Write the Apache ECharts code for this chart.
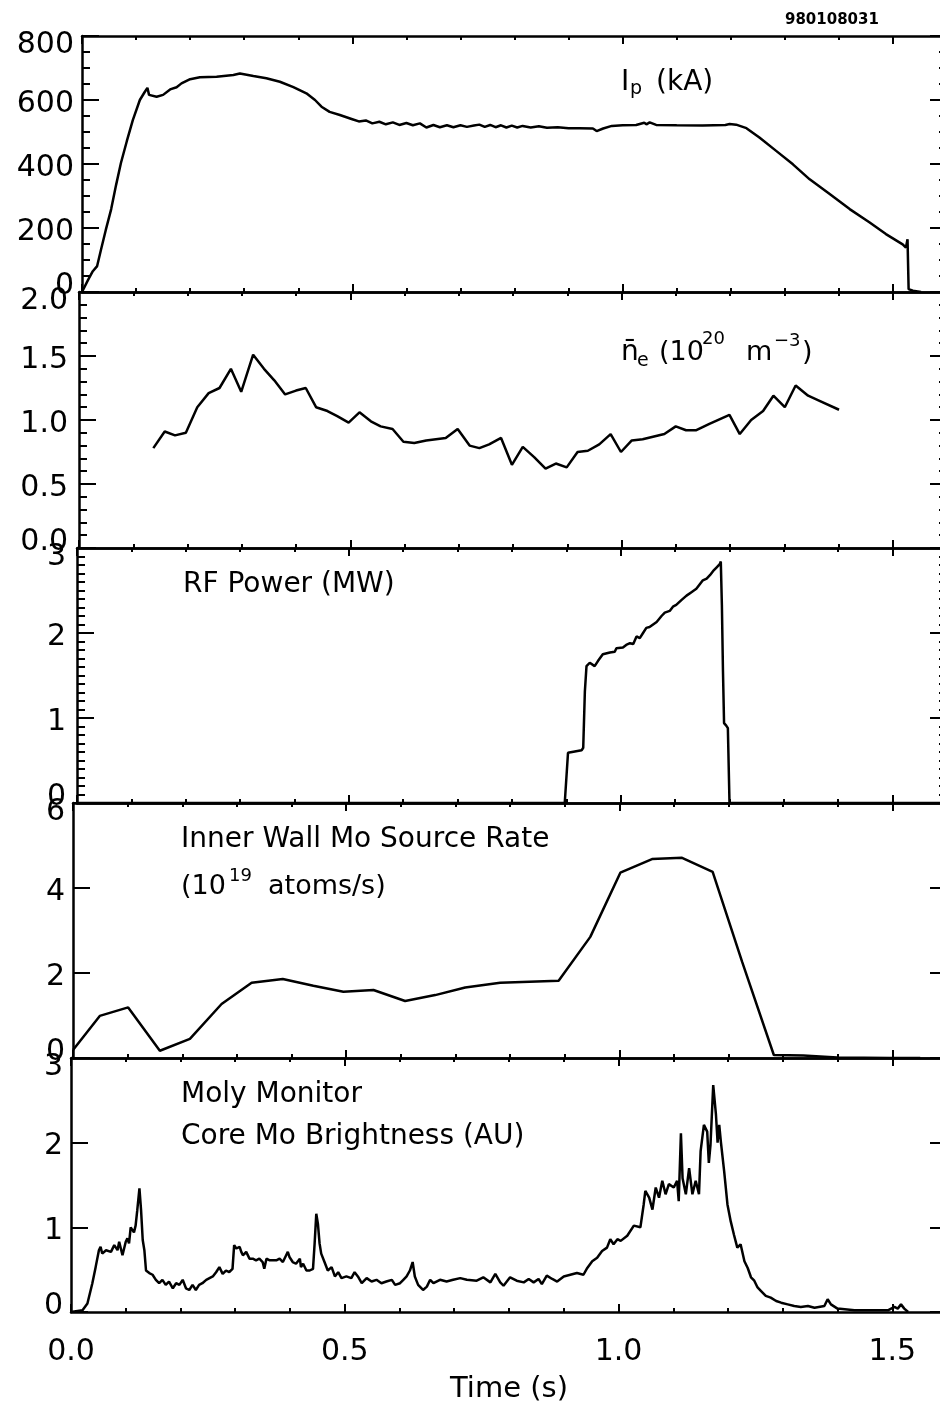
<!DOCTYPE html>
<html>
<head>
<meta charset="utf-8">
<script src="https://cdn.jsdelivr.net/npm/echarts@6.0.0/dist/echarts.min.js"></script>
<style>
html,body{margin:0;padding:0;background:#fff;}
#chart{width:940px;height:1408px;}
</style>
</head>
<body>
<div id="chart"></div>
<script>
// ---------------- DATA ----------------
const shotNumber = '980108031';
const timeLabel = 'Time (s)';

const ipTime = [0,.011,.020,.028,.035,.044,.054,.063,.072,.083,.094,.107,.116,.121,.124,.138,.150,.163,.175,.184,.200,.218,.249,.280,.292,.317,.341,.366,.391,.415,.431,.443,.458,.477,.500,.512,.525,.537,.550,.562,.575,.587,.600,.612,.625,.637,.650,.662,.675,.687,.700,.712,.725,.735,.745,.755,.765,.775,.785,.795,.805,.815,.830,.845,.860,.880,.900,.920,.945,.952,.964,.980,1.000,1.025,1.040,1.044,1.050,1.062,1.100,1.148,1.190,1.198,1.210,1.229,1.253,1.284,1.315,1.346,1.383,1.420,1.457,1.487,1.518,1.524,1.527,1.529,1.537,1.552];
const ipKA = [0,37,65,81,131,194,259,334,403,472,537,600,625,638,616,610,616,633,640,652,665,671,673,678,683,675,668,657,640,621,600,579,563,553,540,533,536,527,532,524,530,522,528,521,527,514,522,515,521,515,521,516,520,523,516,522,515,521,514,520,514,519,514,518,513,515,512,512,511,503,511,519,521,522,529,524,530,522,521,520,522,525,523,512,483,441,399,352,306,259,217,181,149,139,165,9,4,0];

const neTime = [.137,.158,.177,.197,.218,.239,.259,.280,.299,.321,.341,.360,.380,.400,.418,.437,.458,.476,.497,.517,.538,.556,.578,.598,.618,.640,.658,.676,.698,.720,.738,.756,.778,.798,.818,.839,.860,.879,.899,.919,.938,.959,.980,.999,1.019,1.039,1.079,1.100,1.119,1.138,1.162,1.199,1.218,1.239,1.261,1.280,1.301,1.321,1.344,1.365,1.401];
const neValue = [.78,.91,.88,.90,1.10,1.21,1.25,1.40,1.22,1.51,1.40,1.31,1.20,1.23,1.25,1.10,1.07,1.03,.98,1.06,.99,.95,.93,.83,.82,.84,.85,.86,.93,.80,.78,.81,.86,.65,.79,.71,.62,.66,.63,.75,.76,.81,.89,.75,.84,.85,.89,.95,.92,.92,.97,1.04,.89,1.00,1.07,1.19,1.10,1.27,1.19,1.15,1.08];

const rfTime = [0,.897,.903,.906,.928,.931,.934,.937,.943,.952,.958,.967,.980,.989,.992,1.004,1.010,1.017,1.023,1.029,1.035,1.041,1.047,1.053,1.066,1.075,1.081,1.090,1.096,1.102,1.112,1.121,1.130,1.139,1.145,1.151,1.158,1.164,1.170,1.176,1.182,1.184,1.186,1.188,1.190,1.194,1.197,1.200,1.6];
const rfMW = [0,0,.59,.61,.62,.65,1.31,1.61,1.65,1.61,1.67,1.75,1.77,1.78,1.82,1.83,1.86,1.88,1.87,1.96,1.94,2.00,2.06,2.07,2.13,2.20,2.24,2.26,2.31,2.33,2.39,2.44,2.48,2.52,2.57,2.62,2.64,2.68,2.73,2.77,2.81,2.84,2.33,1.55,.94,.91,.88,0,0];

const moSrcTime = [0,.049,.101,.159,.214,.272,.327,.384,.440,.495,.550,.608,.663,.718,.782,.889,.947,1.002,1.060,1.115,1.171,1.225,1.283,1.337,1.399,1.496,1.551];
const moSrcRate = [.19,.99,1.19,.17,.45,1.27,1.77,1.86,1.70,1.56,1.60,1.34,1.48,1.66,1.77,1.82,2.85,4.36,4.68,4.71,4.38,2.26,.07,.06,.01,0,0];

const molyTime = [0,.021,.030,.039,.045,.051,.054,.057,.064,.073,
.079,.085,.088,.094,.097,.100,.103,.106,.109,.115,
.118,.121,.125,.128,.131,.134,.137,.143,.149,.155,
.161,.167,.173,.179,.186,.192,.198,.204,.210,.216,
.222,.228,.234,.240,.247,.253,.259,.265,.271,.277,
.283,.289,.295,.298,.302,.308,.311,.314,.320,.326,
.332,.338,.344,.350,.353,.357,.363,.369,.375,.381,
.387,.393,.396,.399,.405,.411,.418,.420,.424,.430,
.436,.442,.445,.448,.451,.454,.457,.463,.469,.476,
.482,.488,.494,.503,.512,.518,.524,.531,.540,.549,
.558,.567,.576,.586,.592,.601,.607,.613,.619,.624,
.628,.634,.643,.650,.656,.662,.674,.686,.698,.711,
.723,
.741,.753,.766,.775,.784,.790,.802,.814,.827,.836,
.845,.854,.860,.869,.879,.888,.900,.912,.924,.936,
.943,.952,.961,.970,.979,.985,.991,.998,1.004,1.016,
1.028,1.040,1.046,1.049,1.056,1.062,1.068,1.074,1.080,1.086,
1.092,1.101,1.107,1.110,1.114,1.117,1.123,1.129,1.135,1.141,
1.147,1.150,1.156,1.162,1.165,1.168,1.173,1.178,1.181,1.184,
1.187,1.193,1.199,1.205,1.211,1.217,1.223,1.230,1.236,1.242,
1.248,1.254,1.260,1.269,1.278,1.288,1.297,1.309,1.321,1.333,
1.346,1.358,1.376,1.382,1.388,1.400,1.431,1.462,1.492,1.504,
1.510,1.516,1.522,1.529];
const molyAU = [0,.02,.10,.34,.53,.73,.77,.69,.73,.71,
.79,.73,.83,.67,.65,.83,.87,.81,1.00,.94,
1.02,1.20,1.46,1.20,.85,.73,.49,.46,.44,.38,
.34,.38,.32,.36,.28,.34,.32,.38,.28,.26,
.32,.26,.32,.34,.38,.40,.42,.47,.53,.45,
.49,.47,.51,.79,.75,.77,.71,.67,.71,.63,
.63,.61,.63,.59,.51,.63,.61,.61,.61,.63,
.59,.67,.71,.65,.59,.57,.63,.53,.57,.49,
.49,.51,.81,1.16,1.04,.81,.69,.59,.49,.53,
.42,.47,.40,.42,.40,.47,.42,.34,.40,.36,
.38,.34,.36,.38,.32,.34,.38,.42,.49,.59,
.42,.32,.26,.30,.38,.34,.38,.36,.38,.40,
.38,
.37,.41,.35,.45,.35,.31,.41,.37,.35,.39,
.35,.39,.33,.43,.39,.36,.42,.44,.46,.44,
.52,.60,.64,.72,.76,.86,.80,.86,.84,.90,
1.02,1.00,1.27,1.43,1.35,1.21,1.47,1.35,1.55,1.39,
1.51,1.47,1.55,1.31,2.11,1.58,1.39,1.70,1.39,1.55,
1.39,1.90,2.21,2.13,1.76,1.97,2.68,2.33,2.00,2.21,
2.01,1.66,1.27,1.07,.91,.76,.80,.60,.52,.41,
.37,.29,.25,.19,.17,.13,.11,.09,.07,.06,
.07,.05,.07,.15,.09,.04,.02,.02,.02,.06,
.04,.09,.04,0];

// axis ranges (value extents / tick steps)
const timeMin = 0, timeMax = 1.6, timeMajor = 0.5, timeMinor = 0.1;
const yRanges = [
  {min:0, max:800, interval:200, minorSplit:4, decimals:0},
  {min:0, max:2,   interval:0.5, minorSplit:5, decimals:1},
  {min:0, max:3,   interval:1,   minorSplit:10, decimals:0},
  {min:0, max:6,   interval:2,   minorSplit:0, decimals:0},
  {min:0, max:3,   interval:1,   minorSplit:0, decimals:0}
];

// ---------------- LAYOUT / STYLE ----------------
const FONT = 'DejaVu Sans';
const LABEL_SIZE = 30;
const LW = 2.5;
const layout = [
  {left:82, top:36,   height:256, labelMargin:8},
  {left:79, top:292,  height:256, labelMargin:11},
  {left:77, top:548,  height:255, labelMargin:11},
  {left:73, top:803,  height:255, labelMargin:8},
  {left:71, top:1058, height:254, labelMargin:8}
];

function zip(t, v) { return t.map((x, i) => [x, v[i]]); }
const seriesData = [
  zip(ipTime, ipKA),
  zip(neTime, neValue),
  zip(rfTime, rfMW),
  zip(moSrcTime, moSrcRate),
  zip(molyTime, molyAU)
];

const black = '#000';
const grids = [], xAxes = [], yAxes = [], series = [];

function xAxis(gi, pos, major, labels) {
  return {
    type:'value', gridIndex:gi, position:pos,
    min:timeMin, max:timeMax, interval: major ? timeMajor : timeMinor,
    axisLine:{show:major, onZero:false, lineStyle:{color:black, width:LW}},
    axisTick:{show:true, inside:true, length: major ? 8 : 4, lineStyle:{color:black, width:2}},
    minorTick:{show:false}, splitLine:{show:false},
    axisLabel:{show:labels, showMaxLabel:false, margin:25, color:black,
      fontFamily:FONT, fontSize:LABEL_SIZE, formatter:(v)=>v.toFixed(1)},
    name: labels ? timeLabel : '',
    nameLocation:'middle', nameGap:63,
    nameTextStyle:{fontFamily:FONT, fontSize:29, color:black}
  };
}

function richStyle(pad) {
  return {fontFamily:FONT, fontSize:LABEL_SIZE, color:black, padding:pad};
}

function yAxis(gi, r, L, pos, labels) {
  return {
    type:'value', gridIndex:gi, position:pos,
    min:r.min, max:r.max, interval:r.interval,
    axisLine:{show:true, onZero:false, lineStyle:{color:black, width:LW}},
    axisTick:{show:true, inside:true, length:17, lineStyle:{color:black, width:2}},
    minorTick:{show:r.minorSplit>0, splitNumber:r.minorSplit||5, length:8, lineStyle:{color:black, width:2}},
    splitLine:{show:false}, minorSplitLine:{show:false},
    axisLabel:{show:labels, margin:L.labelMargin, color:black, fontFamily:FONT, fontSize:LABEL_SIZE,
      formatter:(v)=>{
        const s = v.toFixed(r.decimals);
        const k = Math.abs(v - r.max) < 1e-9 ? 't' : (Math.abs(v - r.min) < 1e-9 ? 'b' : 'm');
        return '{' + k + '|' + s + '}';
      },
      rich:{t:richStyle([18,0,0,0]), m:richStyle([8,0,0,0]), b:richStyle([0,0,12,0])}
    }
  };
}

layout.forEach((L, i) => {
  grids.push({left:L.left, right:-7, top:L.top, height:L.height, containLabel:false, outerBoundsMode:'none'});
  const last = i === layout.length - 1;
  xAxes.push(xAxis(i, 'bottom', true, last));
  xAxes.push(xAxis(i, 'bottom', false, false));
  xAxes.push(xAxis(i, 'top', true, false));
  xAxes.push(xAxis(i, 'top', false, false));
  yAxes.push(yAxis(i, yRanges[i], L, 'left', true));
  yAxes.push(yAxis(i, yRanges[i], L, 'right', false));
  series.push({
    type:'line', xAxisIndex:4*i, yAxisIndex:2*i, data:seriesData[i],
    showSymbol:false, symbol:'none', silent:true, animation:false,
    lineStyle:{color:black, width:LW}
  });
});

function txt(str, x, y, size, extra) {
  return Object.assign({
    type:'text', x:x, y:y, silent:true,
    style:{text:str, font: size + 'px "' + FONT + '"', fill:black,
      align:'left', verticalAlign:'middle'}
  }, extra || {});
}

const graphics = [
  txt(shotNumber, 785, 20, 15),
  // Ip
  txt('I', 621, 83, 28), txt('p', 630, 89.5, 19), txt('(kA)', 656, 83, 28),
  // ne
  txt('n\u0304', 621, 353, 28), txt('e', 637, 361.5, 19), txt('(10', 659, 353, 27),
  txt('20', 702, 339.7, 18), txt('m', 746, 353, 27), txt('\u22123', 774, 341.7, 18), txt(')', 802, 353, 27),
  // RF
  txt('RF Power (MW)', 183, 584.5, 28),
  // Mo source
  txt('Inner Wall Mo Source Rate', 181, 839.5, 28),
  txt('(10', 181, 887, 27), txt('19', 229, 876.7, 18), txt('atoms/s)', 268, 887, 27),
  // Moly monitor
  txt('Moly Monitor', 181, 1094.5, 28),
  txt('Core Mo Brightness (AU)', 181, 1137, 28)
];
graphics[0].style.font = 'bold 15px "' + FONT + '"';

const chart = echarts.init(document.getElementById('chart'), null, {renderer:'canvas', width:940, height:1408});
chart.setOption({
  backgroundColor:'#fff',
  animation:false,
  grid:grids, xAxis:xAxes, yAxis:yAxes, series:series,
  graphic:{elements:graphics}
});
</script>
</body>
</html>
